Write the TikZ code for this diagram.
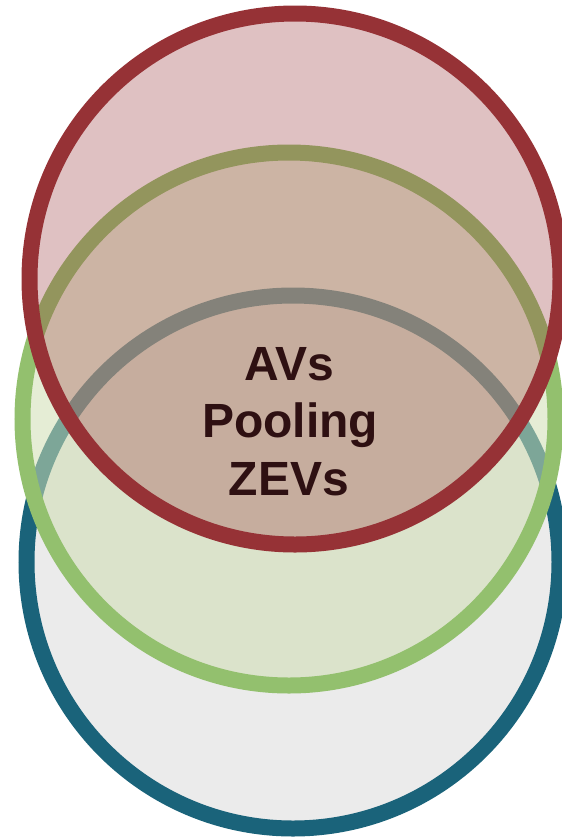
\documentclass[tikz,border=0pt]{standalone}
\usepackage{fontspec}
\setmainfont{Liberation Sans}
\definecolor{redline}{HTML}{963236}
\definecolor{greenline}{HTML}{93C06E}
\definecolor{greenfill}{HTML}{CFDEB2}
\definecolor{blueline}{HTML}{1A637A}
\definecolor{bluefill}{HTML}{EBEBEB}
\definecolor{txtcol}{HTML}{2E1012}
\begin{document}
\begin{tikzpicture}[x=1pt,y=-1pt,
  ring/.style={line width=16pt},
  lbl/.style={anchor=base,inner sep=0pt,text=txtcol,font=\fontsize{48}{57}\selectfont\bfseries}]
\useasboundingbox (0,0) rectangle (562,839);
\draw[ring,draw=blueline,fill=bluefill] (293,562) circle[radius=266.5];
\draw[ring,draw=greenline,fill=greenfill,fill opacity=0.55] (289,419) circle[radius=266.5];
\draw[ring,draw=redline,fill=redline,fill opacity=0.3] (295,279) circle[radius=265.5];
\node[lbl] (avs) at (289,380) {AVs};
\node[lbl] (pool) at (290,437) {Pooling};
\node[lbl] (zevs) at (289,495) {ZEVs};
\end{tikzpicture}
\end{document}
